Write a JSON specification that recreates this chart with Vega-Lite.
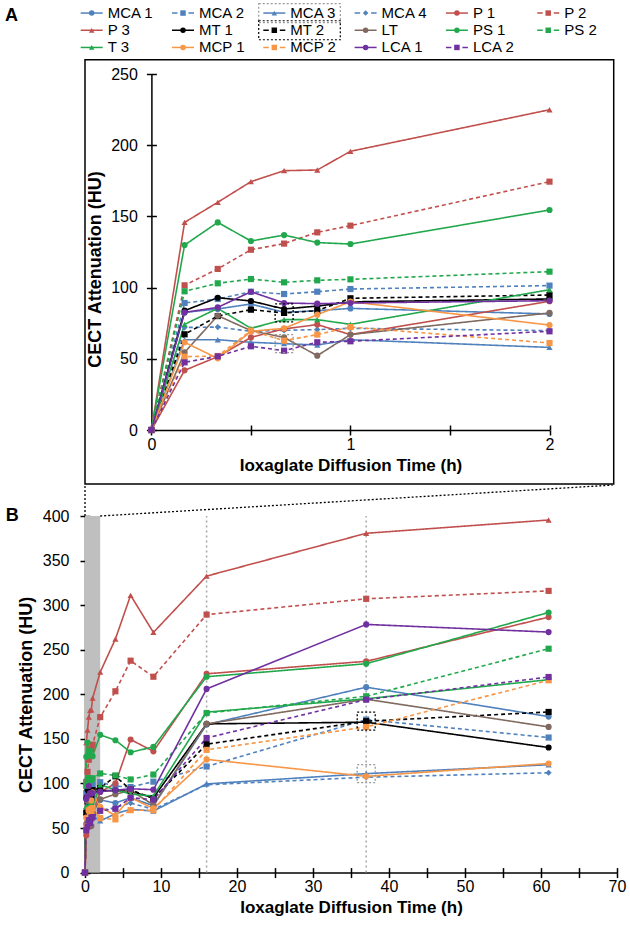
{
"$schema": "https://vega.github.io/schema/vega-lite/v6.json",
"background": "white",
"padding": {"left": 4, "top": 2, "right": 2, "bottom": 2},
"config": {
  "font": "Liberation Sans",
  "view": {"stroke": null},
  "axis": {"labelFont": "Liberation Sans", "labelFontSize": 16, "labelColor": "#000", "labelFlush": false, "labelOverlap": false, "titleFont": "Liberation Sans", "titleFontSize": 17, "titleFontWeight": "bold", "titleColor": "#000", "domainColor": "#000", "domainWidth": 1.5, "tickColor": "#000", "tickWidth": 1.5, "tickSize": 5, "grid": false}
},
"datasets": {
"d": [
{"series":"MCA 1","time":0,"hu":0},{"series":"MCA 1","time":0.1667,"hu":82.6},{"series":"MCA 1","time":0.3333,"hu":85},{"series":"MCA 1","time":0.5,"hu":88.5},{"series":"MCA 1","time":0.6667,"hu":82.6},{"series":"MCA 1","time":0.8333,"hu":83.8},{"series":"MCA 1","time":1,"hu":85.4},{"series":"MCA 1","time":2,"hu":81.5},{"series":"MCA 1","time":4,"hu":78},{"series":"MCA 1","time":6,"hu":84},{"series":"MCA 1","time":9,"hu":75},{"series":"MCA 1","time":16,"hu":166},{"series":"MCA 1","time":37,"hu":208},{"series":"MCA 1","time":61,"hu":175},
{"series":"MCA 2","time":0,"hu":0},{"series":"MCA 2","time":0.1667,"hu":89.2},{"series":"MCA 2","time":0.3333,"hu":92},{"series":"MCA 2","time":0.5,"hu":97.1},{"series":"MCA 2","time":0.6667,"hu":95.5},{"series":"MCA 2","time":0.8333,"hu":97.1},{"series":"MCA 2","time":1,"hu":99},{"series":"MCA 2","time":2,"hu":101.4},{"series":"MCA 2","time":4,"hu":97},{"series":"MCA 2","time":6,"hu":96},{"series":"MCA 2","time":9,"hu":102},{"series":"MCA 2","time":16,"hu":119},{"series":"MCA 2","time":37,"hu":171.6},{"series":"MCA 2","time":61,"hu":151.5},
{"series":"MCA 3","time":0,"hu":0},{"series":"MCA 3","time":0.1667,"hu":63.4},{"series":"MCA 3","time":0.3333,"hu":63.4},{"series":"MCA 3","time":0.5,"hu":61.6},{"series":"MCA 3","time":0.6667,"hu":60.6},{"series":"MCA 3","time":0.8333,"hu":59.7},{"series":"MCA 3","time":1,"hu":63.4},{"series":"MCA 3","time":2,"hu":58},{"series":"MCA 3","time":4,"hu":66},{"series":"MCA 3","time":6,"hu":71},{"series":"MCA 3","time":9,"hu":69},{"series":"MCA 3","time":16,"hu":99.5},{"series":"MCA 3","time":37,"hu":111},{"series":"MCA 3","time":61,"hu":121},
{"series":"MCA 4","time":0,"hu":0},{"series":"MCA 4","time":0.1667,"hu":72},{"series":"MCA 4","time":0.3333,"hu":72.3},{"series":"MCA 4","time":0.5,"hu":69.3},{"series":"MCA 4","time":0.6667,"hu":70},{"series":"MCA 4","time":0.8333,"hu":70.5},{"series":"MCA 4","time":1,"hu":71.4},{"series":"MCA 4","time":2,"hu":69.8},{"series":"MCA 4","time":4,"hu":73},{"series":"MCA 4","time":6,"hu":78},{"series":"MCA 4","time":9,"hu":71},{"series":"MCA 4","time":16,"hu":98.5},{"series":"MCA 4","time":37,"hu":107},{"series":"MCA 4","time":61,"hu":112},
{"series":"P 1","time":0,"hu":0},{"series":"P 1","time":0.1667,"hu":41.9},{"series":"P 1","time":0.3333,"hu":51.5},{"series":"P 1","time":0.5,"hu":65},{"series":"P 1","time":0.6667,"hu":71},{"series":"P 1","time":0.8333,"hu":74},{"series":"P 1","time":1,"hu":67},{"series":"P 1","time":2,"hu":90.4},{"series":"P 1","time":4,"hu":100},{"series":"P 1","time":6,"hu":149.3},{"series":"P 1","time":9,"hu":136},{"series":"P 1","time":16,"hu":223},{"series":"P 1","time":37,"hu":237},{"series":"P 1","time":61,"hu":286.6},
{"series":"P 2","time":0,"hu":0},{"series":"P 2","time":0.1667,"hu":101.6},{"series":"P 2","time":0.3333,"hu":113.1},{"series":"P 2","time":0.5,"hu":126.6},{"series":"P 2","time":0.6667,"hu":130.9},{"series":"P 2","time":0.8333,"hu":138.8},{"series":"P 2","time":1,"hu":143.5},{"series":"P 2","time":2,"hu":174.4},{"series":"P 2","time":4,"hu":203.4},{"series":"P 2","time":6,"hu":237.7},{"series":"P 2","time":9,"hu":219.7},{"series":"P 2","time":16,"hu":289.4},{"series":"P 2","time":37,"hu":307.1},{"series":"P 2","time":61,"hu":316},
{"series":"P 3","time":0,"hu":0},{"series":"P 3","time":0.1667,"hu":145.8},{"series":"P 3","time":0.3333,"hu":159.9},{"series":"P 3","time":0.5,"hu":174.4},{"series":"P 3","time":0.6667,"hu":182.1},{"series":"P 3","time":0.8333,"hu":182.6},{"series":"P 3","time":1,"hu":195.7},{"series":"P 3","time":2,"hu":224.9},{"series":"P 3","time":4,"hu":262},{"series":"P 3","time":6,"hu":311},{"series":"P 3","time":9,"hu":269.4},{"series":"P 3","time":16,"hu":332.6},{"series":"P 3","time":37,"hu":380.6},{"series":"P 3","time":61,"hu":395.5},
{"series":"MT 1","time":0,"hu":0},{"series":"MT 1","time":0.1667,"hu":83.8},{"series":"MT 1","time":0.3333,"hu":92.9},{"series":"MT 1","time":0.5,"hu":90.6},{"series":"MT 1","time":0.6667,"hu":85},{"series":"MT 1","time":0.8333,"hu":87},{"series":"MT 1","time":1,"hu":90},{"series":"MT 1","time":2,"hu":92},{"series":"MT 1","time":4,"hu":92},{"series":"MT 1","time":6,"hu":91},{"series":"MT 1","time":9,"hu":84},{"series":"MT 1","time":16,"hu":166.8},{"series":"MT 1","time":37,"hu":168.7},{"series":"MT 1","time":61,"hu":140.3},
{"series":"MT 2","time":0,"hu":0},{"series":"MT 2","time":0.1667,"hu":67.2},{"series":"MT 2","time":0.3333,"hu":80},{"series":"MT 2","time":0.5,"hu":84.5},{"series":"MT 2","time":0.6667,"hu":82.2},{"series":"MT 2","time":0.8333,"hu":83.8},{"series":"MT 2","time":1,"hu":92.5},{"series":"MT 2","time":2,"hu":94.8},{"series":"MT 2","time":4,"hu":108},{"series":"MT 2","time":6,"hu":93},{"series":"MT 2","time":9,"hu":83},{"series":"MT 2","time":16,"hu":144},{"series":"MT 2","time":37,"hu":169.8},{"series":"MT 2","time":61,"hu":180.2},
{"series":"LT","time":0,"hu":0},{"series":"LT","time":0.1667,"hu":54.5},{"series":"LT","time":0.3333,"hu":80.3},{"series":"LT","time":0.5,"hu":69.8},{"series":"LT","time":0.6667,"hu":65},{"series":"LT","time":0.8333,"hu":52.2},{"series":"LT","time":1,"hu":67},{"series":"LT","time":2,"hu":82.2},{"series":"LT","time":4,"hu":88},{"series":"LT","time":6,"hu":92},{"series":"LT","time":9,"hu":76},{"series":"LT","time":16,"hu":166.8},{"series":"LT","time":37,"hu":194.5},{"series":"LT","time":61,"hu":163.4},
{"series":"PS 1","time":0,"hu":0},{"series":"PS 1","time":0.1667,"hu":129.9},{"series":"PS 1","time":0.3333,"hu":145.8},{"series":"PS 1","time":0.5,"hu":132.7},{"series":"PS 1","time":0.6667,"hu":136.9},{"series":"PS 1","time":0.8333,"hu":131.6},{"series":"PS 1","time":1,"hu":130.6},{"series":"PS 1","time":2,"hu":154.5},{"series":"PS 1","time":4,"hu":148.5},{"series":"PS 1","time":6,"hu":135},{"series":"PS 1","time":9,"hu":141},{"series":"PS 1","time":16,"hu":219.7},{"series":"PS 1","time":37,"hu":234.3},{"series":"PS 1","time":61,"hu":291.8},
{"series":"PS 2","time":0,"hu":0},{"series":"PS 2","time":0.1667,"hu":97.4},{"series":"PS 2","time":0.3333,"hu":103},{"series":"PS 2","time":0.5,"hu":106},{"series":"PS 2","time":0.6667,"hu":103.7},{"series":"PS 2","time":0.8333,"hu":105.1},{"series":"PS 2","time":1,"hu":105.8},{"series":"PS 2","time":2,"hu":111.2},{"series":"PS 2","time":4,"hu":109},{"series":"PS 2","time":6,"hu":104.5},{"series":"PS 2","time":9,"hu":110},{"series":"PS 2","time":16,"hu":179},{"series":"PS 2","time":37,"hu":197.8},{"series":"PS 2","time":61,"hu":251.1},
{"series":"T 3","time":0,"hu":0},{"series":"T 3","time":0.1667,"hu":74.2},{"series":"T 3","time":0.3333,"hu":85.4},{"series":"T 3","time":0.5,"hu":71.4},{"series":"T 3","time":0.6667,"hu":77.5},{"series":"T 3","time":0.8333,"hu":77.5},{"series":"T 3","time":1,"hu":74.2},{"series":"T 3","time":2,"hu":98.5},{"series":"T 3","time":4,"hu":93},{"series":"T 3","time":6,"hu":88},{"series":"T 3","time":9,"hu":86},{"series":"T 3","time":16,"hu":180},{"series":"T 3","time":37,"hu":195},{"series":"T 3","time":61,"hu":216.4},
{"series":"MCP 1","time":0,"hu":0},{"series":"MCP 1","time":0.1667,"hu":61.6},{"series":"MCP 1","time":0.3333,"hu":50.3},{"series":"MCP 1","time":0.5,"hu":69.3},{"series":"MCP 1","time":0.6667,"hu":71.4},{"series":"MCP 1","time":0.8333,"hu":81},{"series":"MCP 1","time":1,"hu":90.1},{"series":"MCP 1","time":2,"hu":73.7},{"series":"MCP 1","time":4,"hu":64},{"series":"MCP 1","time":6,"hu":84},{"series":"MCP 1","time":9,"hu":72},{"series":"MCP 1","time":16,"hu":127},{"series":"MCP 1","time":37,"hu":108},{"series":"MCP 1","time":61,"hu":122.4},
{"series":"MCP 2","time":0,"hu":0},{"series":"MCP 2","time":0.1667,"hu":51.5},{"series":"MCP 2","time":0.3333,"hu":52},{"series":"MCP 2","time":0.5,"hu":69.8},{"series":"MCP 2","time":0.6667,"hu":62.7},{"series":"MCP 2","time":0.8333,"hu":67},{"series":"MCP 2","time":1,"hu":72.3},{"series":"MCP 2","time":2,"hu":61.1},{"series":"MCP 2","time":4,"hu":59.7},{"series":"MCP 2","time":6,"hu":70},{"series":"MCP 2","time":9,"hu":70},{"series":"MCP 2","time":16,"hu":137.7},{"series":"MCP 2","time":37,"hu":163.4},{"series":"MCP 2","time":61,"hu":215.7},
{"series":"LCA 1","time":0,"hu":0},{"series":"LCA 1","time":0.1667,"hu":82.6},{"series":"LCA 1","time":0.3333,"hu":86.1},{"series":"LCA 1","time":0.5,"hu":97.1},{"series":"LCA 1","time":0.6667,"hu":89.2},{"series":"LCA 1","time":0.8333,"hu":88.7},{"series":"LCA 1","time":1,"hu":89.2},{"series":"LCA 1","time":2,"hu":90.8},{"series":"LCA 1","time":4,"hu":92.5},{"series":"LCA 1","time":6,"hu":94},{"series":"LCA 1","time":9,"hu":93},{"series":"LCA 1","time":16,"hu":206},{"series":"LCA 1","time":37,"hu":278.4},{"series":"LCA 1","time":61,"hu":269.8},
{"series":"LCA 2","time":0,"hu":0},{"series":"LCA 2","time":0.1667,"hu":47.5},{"series":"LCA 2","time":0.3333,"hu":51.7},{"series":"LCA 2","time":0.5,"hu":58.8},{"series":"LCA 2","time":0.6667,"hu":55.7},{"series":"LCA 2","time":0.8333,"hu":61.6},{"series":"LCA 2","time":1,"hu":62.3},{"series":"LCA 2","time":2,"hu":69.3},{"series":"LCA 2","time":4,"hu":71.6},{"series":"LCA 2","time":6,"hu":84},{"series":"LCA 2","time":9,"hu":82},{"series":"LCA 2","time":16,"hu":151},{"series":"LCA 2","time":37,"hu":194},{"series":"LCA 2","time":61,"hu":219.4}
]
},
"spacing": 86,
"bounds": "flush",
"resolve": {"scale": {"color": "shared", "shape": "shared", "strokeDash": "shared"}},
"vconcat": [
{
  "width": 465,
  "height": 356,
  "resolve": {"axis": {"x": "independent", "y": "independent"}},
  "layer": [
    {
      "data": {"values": [{}]},
      "mark": {"type": "rect", "filled": false, "stroke": "#000", "strokeWidth": 1.5},
      "encoding": {
        "x": {"datum": -0.3336, "type": "quantitative", "axis": null},
        "x2": {"datum": 2.3226},
        "y": {"datum": 260, "type": "quantitative", "axis": null},
        "y2": {"datum": -37.9}
      }
    },
    {
      "data": {"values": [{"label": "A"}]},
      "mark": {"type": "text", "font": "Liberation Sans", "fontSize": 18, "fontWeight": "bold", "align": "center", "baseline": "middle", "color": "#000"},
      "encoding": {
        "x": {"datum": -0.703, "type": "quantitative", "axis": null},
        "y": {"datum": 290.7, "type": "quantitative", "axis": null},
        "text": {"field": "label"}
      }
    },
    {
      "data": {"name": "d"},
      "transform": [
        {"filter": "datum.time == 0"},
        {"window": [{"op": "row_number", "as": "idx"}]},
        {"calculate": "-0.3552 + ((datum.idx - 1) % 6) * 0.4587", "as": "lx"},
        {"calculate": "292.8 - floor((datum.idx - 1) / 6) * 12.08", "as": "ly"}
      ],
      "layer": [
        {
          "transform": [{"filter": "indexof(['MCA 2','MCA 4','P 2','MT 2','PS 2','MCP 2','LCA 2'], datum.series) < 0"}],
          "mark": {"type": "rule", "strokeWidth": 1.5, "x2Offset": 22},
          "encoding": {
            "x": {"field": "lx", "type": "quantitative", "axis": null},
            "x2": {"field": "lx"},
            "y": {"field": "ly", "type": "quantitative", "axis": null},
            "color": {"field": "series", "type": "nominal", "legend": null}
          }
        },
        {
          "transform": [{"filter": "indexof(['MCA 2','MCA 4','P 2','MT 2','PS 2','MCP 2','LCA 2'], datum.series) >= 0"}],
          "mark": {"type": "rule", "strokeWidth": 1.5, "x2Offset": 22, "strokeDash": [5.5, 11]},
          "encoding": {
            "x": {"field": "lx", "type": "quantitative", "axis": null},
            "x2": {"field": "lx"},
            "y": {"field": "ly", "type": "quantitative", "axis": null},
            "color": {"field": "series", "type": "nominal", "legend": null}
          }
        },
        {
          "mark": {"type": "point", "filled": true, "size": 30, "opacity": 1, "xOffset": 11},
          "encoding": {
            "x": {"field": "lx", "type": "quantitative", "axis": null},
            "y": {"field": "ly", "type": "quantitative", "axis": null},
            "color": {"field": "series", "type": "nominal", "legend": null},
            "shape": {"field": "series", "type": "nominal", "legend": null}
          }
        },
        {
          "mark": {"type": "text", "font": "Liberation Sans", "fontSize": 15, "align": "left", "baseline": "middle", "dx": 27, "color": "#000"},
          "encoding": {
            "x": {"field": "lx", "type": "quantitative", "axis": null},
            "y": {"field": "ly", "type": "quantitative", "axis": null},
            "text": {"field": "series"}
          }
        },
        {
          "transform": [{"filter": "datum.series == 'MCA 3' || datum.series == 'MT 2'"}],
          "mark": {"type": "rect", "filled": false, "strokeDash": [2, 2], "strokeWidth": 1.2, "xOffset": -4.6, "x2Offset": 77, "yOffset": -9.5, "y2Offset": 9.5},
          "encoding": {
            "x": {"field": "lx", "type": "quantitative", "axis": null},
            "x2": {"field": "lx"},
            "y": {"field": "ly", "type": "quantitative", "axis": null},
            "y2": {"field": "ly"},
            "stroke": {"condition": {"test": "datum.series == 'MT 2'", "value": "#000"}, "value": "#999"}
          }
        }
      ]
    },
    {
      "data": {"name": "d"},
      "transform": [{"filter": "datum.time <= 2"}],
      "mark": {"type": "line", "strokeWidth": 1.6},
      "encoding": {
        "x": {"field": "time", "type": "quantitative", "scale": {"domain": [0, 2], "range": [66.4, 464.5], "nice": false, "zero": false},
              "axis": {"values": [0, 0.5, 1, 1.5, 2], "labelExpr": "datum.value == 0 ? '0' : datum.value == 1 ? '1' : datum.value == 2 ? '2' : ''", "labelOverlap": false, "title": "Ioxaglate Diffusion Time (h)", "labelPadding": 1, "titlePadding": 5}},
        "y": {"field": "hu", "type": "quantitative", "scale": {"domain": [0, 250], "nice": false},
              "axis": {"values": [0, 50, 100, 150, 200, 250], "title": "CECT Attenuation (HU)", "titleFontSize": 18, "titleY": 195, "offset": -66.4, "labelPadding": 9, "titlePadding": 6}},
        "color": {"field": "series", "type": "nominal", "legend": null,
                  "scale": {"domain": ["MCA 1","MCA 2","MCA 3","MCA 4","P 1","P 2","P 3","MT 1","MT 2","LT","PS 1","PS 2","T 3","MCP 1","MCP 2","LCA 1","LCA 2"],
                            "range": ["#4F81BD","#4F81BD","#4F81BD","#4F81BD","#C0504D","#C0504D","#C0504D","#000000","#000000","#806A60","#22A84C","#22A84C","#22A84C","#F79646","#F79646","#7030A0","#7030A0"]}},
        "strokeDash": {"field": "series", "type": "nominal", "legend": null,
                  "scale": {"domain": ["MCA 1","MCA 2","MCA 3","MCA 4","P 1","P 2","P 3","MT 1","MT 2","LT","PS 1","PS 2","T 3","MCP 1","MCP 2","LCA 1","LCA 2"],
                            "range": [[1,0],[4,3],[1,0],[4,3],[1,0],[4,3],[1,0],[1,0],[4,3],[1,0],[1,0],[4,3],[1,0],[1,0],[4,3],[1,0],[4,3]]}}
      }
    },
    {
      "data": {"name": "d"},
      "transform": [{"filter": "datum.time <= 2"}],
      "mark": {"type": "point", "filled": true, "size": 38, "opacity": 1},
      "encoding": {
        "x": {"field": "time", "type": "quantitative", "axis": {"orient": "bottom", "values": [0, 0.5, 1, 1.5, 2], "tickSize": -5, "labels": false, "domain": false, "title": null}},
        "y": {"field": "hu", "type": "quantitative", "axis": {"orient": "left", "values": [0, 50, 100, 150, 200, 250], "tickSize": -5, "labels": false, "domain": false, "title": null, "offset": -66.4}},
        "color": {"field": "series", "type": "nominal", "legend": null},
        "shape": {"field": "series", "type": "nominal", "legend": null,
                  "scale": {"domain": ["MCA 1","MCA 2","MCA 3","MCA 4","P 1","P 2","P 3","MT 1","MT 2","LT","PS 1","PS 2","T 3","MCP 1","MCP 2","LCA 1","LCA 2"],
                            "range": ["circle","square","triangle-up","diamond","circle","square","triangle-up","circle","square","circle","circle","square","triangle-up","circle","square","circle","square"]}}
      }
    },
    {
      "data": {"name": "d"},
      "transform": [{"filter": "(datum.series == 'MT 2' || datum.series == 'MCA 3') && abs(datum.time - 0.6667) < 0.01"}],
      "mark": {"type": "point", "shape": "square", "size": 324, "filled": false, "strokeDash": [2, 2], "strokeWidth": 1.3, "opacity": 1},
      "encoding": {
        "x": {"field": "time", "type": "quantitative", "axis": null},
        "y": {"field": "hu", "type": "quantitative", "axis": null},
        "stroke": {"condition": {"test": "datum.series == 'MT 2'", "value": "#000"}, "value": "#999"}
      }
    }
  ]
},
{
  "width": 532,
  "height": 356.6,
  "resolve": {"axis": {"x": "independent", "y": "independent"}},
  "layer": [
    {
      "data": {"values": [{}]},
      "mark": {"type": "rect", "color": "#bfbfbf"},
      "encoding": {
        "x": {"datum": 0, "type": "quantitative", "axis": null},
        "x2": {"datum": 2},
        "y": {"datum": 0, "type": "quantitative", "axis": null},
        "y2": {"datum": 400}
      }
    },
    {
      "data": {"values": [{"mark_time": 16}, {"mark_time": 37}]},
      "mark": {"type": "rule", "color": "#a6a6a6", "strokeDash": [2, 3], "strokeWidth": 1.5},
      "encoding": {
        "x": {"field": "mark_time", "type": "quantitative", "axis": null},
        "y": {"datum": 0, "type": "quantitative", "axis": null},
        "y2": {"datum": 400}
      }
    },
    {
      "data": {"values": [{}]},
      "mark": {"type": "rule", "color": "#000", "strokeDash": [2, 2], "strokeWidth": 1.3},
      "encoding": {
        "x": {"datum": 0, "type": "quantitative", "axis": null},
        "y": {"datum": 400, "type": "quantitative", "axis": null},
        "y2": {"datum": 434.7}
      }
    },
    {
      "data": {"values": [{}]},
      "mark": {"type": "rule", "color": "#000", "strokeDash": [2, 2], "strokeWidth": 1.3},
      "encoding": {
        "x": {"datum": 2, "type": "quantitative", "axis": null},
        "x2": {"datum": 69.43},
        "y": {"datum": 400, "type": "quantitative", "axis": null},
        "y2": {"datum": 434.7}
      }
    },
    {
      "data": {"values": [{"label": "B"}]},
      "mark": {"type": "text", "font": "Liberation Sans", "fontSize": 18, "fontWeight": "bold", "align": "center", "baseline": "middle", "color": "#000"},
      "encoding": {
        "x": {"datum": -9.58, "type": "quantitative", "axis": null},
        "y": {"datum": 400, "type": "quantitative", "axis": null},
        "text": {"field": "label"}
      }
    },
    {
      "data": {"name": "d"},
      "mark": {"type": "line", "strokeWidth": 1.6},
      "encoding": {
        "x": {"field": "time", "type": "quantitative", "scale": {"domain": [0, 70], "nice": false, "zero": false},
              "axis": {"values": [0,5,10,15,20,25,30,35,40,45,50,55,60,65,70], "labelExpr": "datum.value % 10 == 0 ? datum.label : ''", "title": "Ioxaglate Diffusion Time (h)", "labelPadding": 1, "titlePadding": 5}},
        "y": {"field": "hu", "type": "quantitative", "scale": {"domain": [0, 400], "nice": false},
              "axis": {"values": [0,50,100,150,200,250,300,350,400], "title": "CECT Attenuation (HU)", "titleFontSize": 18, "labelPadding": 11, "titlePadding": 7}},
        "color": {"field": "series", "type": "nominal", "legend": null},
        "strokeDash": {"field": "series", "type": "nominal", "legend": null}
      }
    },
    {
      "data": {"name": "d"},
      "mark": {"type": "point", "filled": true, "size": 38, "opacity": 1},
      "encoding": {
        "x": {"field": "time", "type": "quantitative", "axis": {"orient": "bottom", "values": [0,5,10,15,20,25,30,35,40,45,50,55,60,65,70], "tickSize": -5, "labels": false, "domain": false, "title": null}},
        "y": {"field": "hu", "type": "quantitative", "axis": {"orient": "left", "values": [0,50,100,150,200,250,300,350,400], "tickSize": -5, "labels": false, "domain": false, "title": null}},
        "color": {"field": "series", "type": "nominal", "legend": null},
        "shape": {"field": "series", "type": "nominal", "legend": null}
      }
    },
    {
      "data": {"name": "d"},
      "transform": [{"filter": "(datum.series == 'MT 2' || datum.series == 'MCA 3') && datum.time == 37"}],
      "mark": {"type": "point", "shape": "square", "size": 324, "filled": false, "strokeDash": [2, 2], "strokeWidth": 1.3, "opacity": 1},
      "encoding": {
        "x": {"field": "time", "type": "quantitative", "axis": null},
        "y": {"field": "hu", "type": "quantitative", "axis": null},
        "stroke": {"condition": {"test": "datum.series == 'MT 2'", "value": "#000"}, "value": "#999"}
      }
    }
  ]
}
]
}
